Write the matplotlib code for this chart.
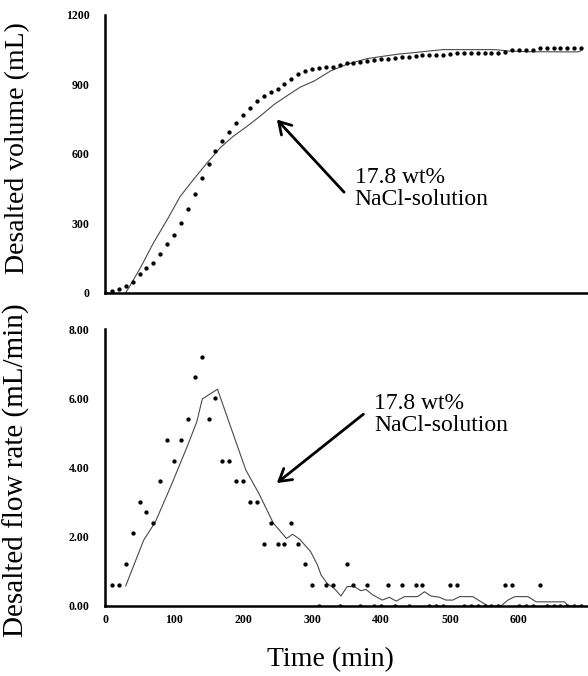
import matplotlib.pyplot as plt

plt.rcParams['font.family'] = ['Liberation Serif', 'DejaVu Serif']

# sampling times (min), one reading every 10 min
time = [0, 10, 20, 30, 40, 50, 60, 70, 80, 90,
        100, 110, 120, 130, 140, 150, 160, 170, 180, 190,
        200, 210, 220, 230, 240, 250, 260, 270, 280, 290,
        300, 310, 320, 330, 340, 350, 360, 370, 380, 390,
        400, 410, 420, 430, 440, 450, 460, 470, 480, 490,
        500, 510, 520, 530, 540, 550, 560, 570, 580, 590,
        600, 610, 620, 630, 640, 650, 660, 670, 680, 690]

# measured desalted volume (mL)
volume = [0, 8, 15, 27, 47, 80, 108, 130, 168, 212,
          250, 300, 360, 425, 495, 556, 610, 654, 693, 733,
          766, 798, 827, 849, 866, 881, 903, 925, 945, 956,
          966, 970, 974, 976, 982, 990, 994, 998, 1001, 1005,
          1008, 1011, 1012, 1016, 1020, 1022, 1025, 1025, 1025, 1025,
          1033, 1037, 1037, 1037, 1037, 1037, 1037, 1037, 1041, 1048,
          1048, 1048, 1048, 1056, 1056, 1056, 1056, 1056, 1056, 1056]

# measured desalted flow rate (mL/min)
flow = [0, 0.6, 0.6, 1.2, 2.1, 3.0, 2.7, 2.4, 3.6, 4.8,
        4.2, 4.8, 5.4, 6.6, 7.2, 5.4, 6.0, 4.2, 4.2, 3.6,
        3.6, 3.0, 3.0, 1.8, 2.4, 1.8, 1.8, 2.4, 1.8, 1.2,
        0.6, 0, 0.6, 0.6, 0, 1.2, 0.6, 0, 0.6, 0,
        0, 0.6, 0, 0.6, 0, 0.6, 0.6, 0, 0, 0,
        0.6, 0.6, 0, 0, 0, 0, 0, 0, 0.6, 0.6,
        0, 0, 0, 0.6, 0, 0, 0, 0, 0, 0]

# model curves
model_v_t = [30, 36, 51, 70, 90, 109, 128, 148, 167, 186, 206, 225, 245,
             264, 283, 303, 327, 351, 380, 400, 424, 448, 470, 490, 565,
             585, 612, 685, 690]
model_v = [0, 29, 106, 214, 315, 416, 488, 561, 626, 676, 719, 763, 813,
           851, 888, 914, 958, 987, 1011, 1020, 1030, 1037, 1044, 1050, 1050,
           1044, 1041, 1040, 1045]

model_f_t = [30, 56, 73, 95, 119, 133, 141, 163, 182, 204, 223, 244, 263,
             272, 282, 298, 308, 313, 322, 332, 342, 351, 361, 371, 378,
             388, 402, 412, 422, 434, 453, 463, 472, 485, 494, 504, 514,
             533, 545, 555, 574, 584, 594, 613, 625, 666, 671, 690]
model_f = [0.58, 1.9, 2.43, 3.44, 4.6, 5.32, 5.98, 6.26, 5.18, 3.93, 3.25,
           2.39, 1.95, 2.07, 1.93, 1.57, 1.18, 0.9, 0.65, 0.51, 0.29, 0.56,
           0.56, 0.44, 0.48, 0.32, 0.17, 0.25, 0.14, 0.27, 0.27, 0.41, 0.29,
           0.25, 0.17, 0.17, 0.27, 0.27, 0.12, 0, 0, 0.17, 0.27, 0.27, 0.12,
           0.12, 0, 0]

label = '17.8 wt%\nNaCl-solution'

fig = plt.figure(figsize=(5.88, 6.76), dpi=100)
ax1 = fig.add_axes([0.1786, 0.567, 0.8214, 0.411])
ax2 = fig.add_axes([0.1786, 0.1036, 0.8214, 0.4097])

for ax in (ax1, ax2):
    for s in ('top', 'right'):
        ax.spines[s].set_visible(False)
    for s in ('left', 'bottom'):
        ax.spines[s].set_linewidth(1.8)
    ax.tick_params(length=0, labelsize=8.5, pad=11)
    ax.set_xlim(0, 700)

# volume
ax1.plot(model_v_t, model_v, color='#4a4a4a', lw=0.8)
ax1.plot(time, volume, 'o', color='black', ms=2.1, mec='black')
ax1.set_ylim(0, 1200)
ax1.set_yticks([0, 300, 600, 900, 1200])
ax1.set_xticks([])
ax1.set_ylabel('Desalted volume (mL)', fontsize=20)
ax1.yaxis.set_label_coords(-0.155, 0.52)
ax1.annotate(label, xy=(249, 748), xytext=(362, 449), fontsize=17,
             va='center', ha='left', linespacing=1.05,
             arrowprops=dict(arrowstyle='->,head_length=0.5,head_width=0.3',
                             lw=2, color='black', shrinkA=0, shrinkB=0,
                             relpos=(-0.08, 0.42)))

# flow rate
ax2.plot(model_f_t, model_f, color='#4a4a4a', lw=0.8)
ax2.plot(time, flow, 'o', color='black', ms=2.1, mec='black')
ax2.set_ylim(0, 8)
ax2.set_yticks([0, 2, 4, 6, 8])
ax2.set_yticklabels(['0.00', '2.00', '4.00', '6.00', '8.00'])
ax2.set_xticks([0, 100, 200, 300, 400, 500, 600])
ax2.tick_params(axis='x', pad=6)
ax2.set_ylabel('Desalted flow rate (mL/min)', fontsize=21)
ax2.yaxis.set_label_coords(-0.155, 0.49)
ax2.annotate(label, xy=(249, 3.55), xytext=(390, 5.54), fontsize=17,
             va='center', ha='left', linespacing=1.05,
             arrowprops=dict(arrowstyle='->,head_length=0.5,head_width=0.3',
                             lw=2, color='black', shrinkA=0, shrinkB=0,
                             relpos=(-0.08, 0.5)))

for ax in (ax1, ax2):
    for t in ax.get_xticklabels() + ax.get_yticklabels():
        t.set_fontweight('bold')

fig.text(330 / 588, 1 - 660 / 676, 'Time (min)', fontsize=20,
         ha='center', va='center')

fig.savefig('out.png', dpi=100)
